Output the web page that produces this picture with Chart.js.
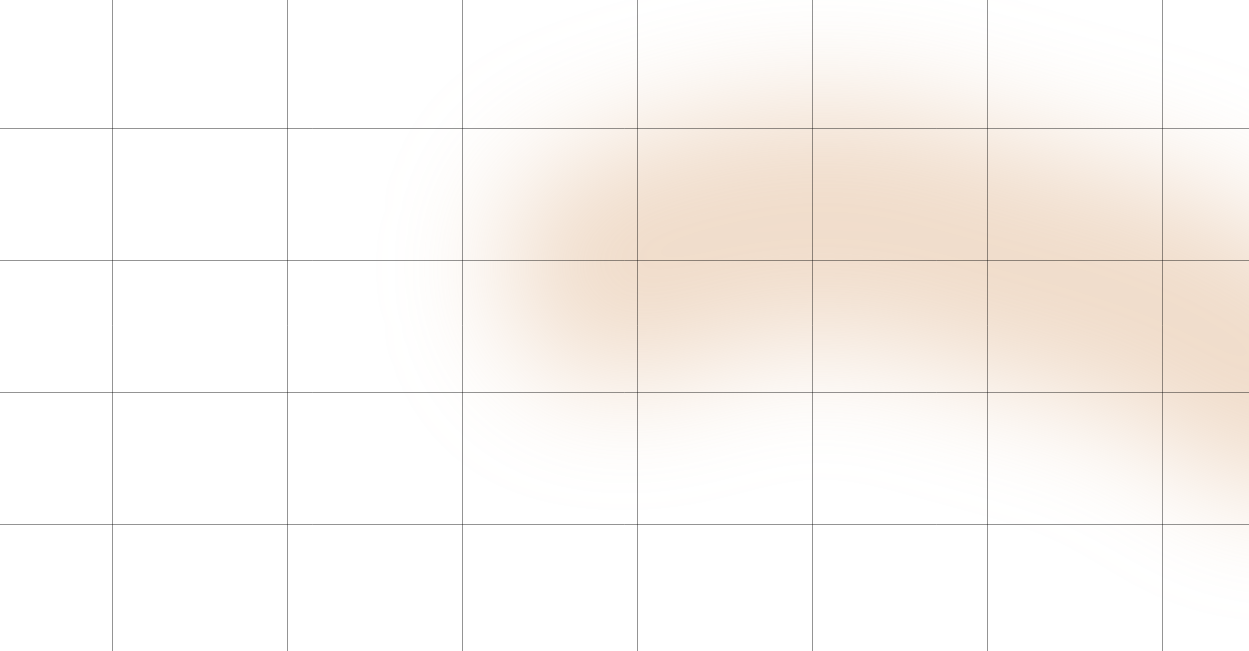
<!DOCTYPE html>
<html><head><meta charset="utf-8">
<script src="https://cdn.jsdelivr.net/npm/chart.js@4/dist/chart.umd.min.js"></script>
<style>html,body{margin:0;padding:0;background:#fff;overflow:hidden}#wrap{width:1249px;height:651px}</style>
</head><body><div id="wrap"><canvas id="c" width="1249" height="651"></canvas></div>
<script>
// grid tick positions (in cell units)
const xTicks = [0, 1, 2, 3, 4, 5, 6];
const yTicks = [1, 2, 3, 4];
// glow band path (x in columns, y in rows)
const bandX = [2.9, 3.5, 4.2, 5.1, 6.0, 6.7];
const bandY = [2.95, 3.2, 3.3, 3.0, 2.65, 2.1];

const blurPlugin = {
  id: 'blurBand',
  beforeDatasetsDraw(chart){ chart.ctx.save(); chart.ctx.filter = 'blur(60px)'; },
  afterDatasetsDraw(chart){ chart.ctx.restore(); }
};

new Chart(document.getElementById('c'), {
  type: 'line',
  data: {
    datasets: [{
      data: bandX.map((x,i)=>({x:x, y:bandY[i]})),
      borderColor: 'rgba(215,160,110,0.37)',
      borderWidth: 235,
      borderCapStyle: 'round',
      borderJoinStyle: 'round',
      pointRadius: 0,
      tension: 0.4,
      fill: false
    }]
  },
  options: {
    responsive: false,
    animation: false,
    layout: { padding: 0 },
    plugins: { legend: { display: false }, tooltip: { enabled: false } },
    scales: {
      x: {
        type: 'linear', min: -112.5/175, max: -112.5/175 + 1249/175,
        afterBuildTicks(s){ s.ticks = xTicks.map(v=>({value:v})); },
        ticks: { display: false },
        border: { display: false },
        grid: { color: 'rgba(0,0,0,0.42)', lineWidth: 1, drawTicks: false, z: 1 }
      },
      y: {
        type: 'linear', max: 4 + 128.5/132, min: 4 + 128.5/132 - 651/132,
        afterBuildTicks(s){ s.ticks = yTicks.map(v=>({value:v})); },
        ticks: { display: false },
        border: { display: false },
        grid: { color: 'rgba(0,0,0,0.42)', lineWidth: 1, drawTicks: false, z: 1 }
      }
    }
  },
  plugins: [blurPlugin]
});
</script></body></html>
